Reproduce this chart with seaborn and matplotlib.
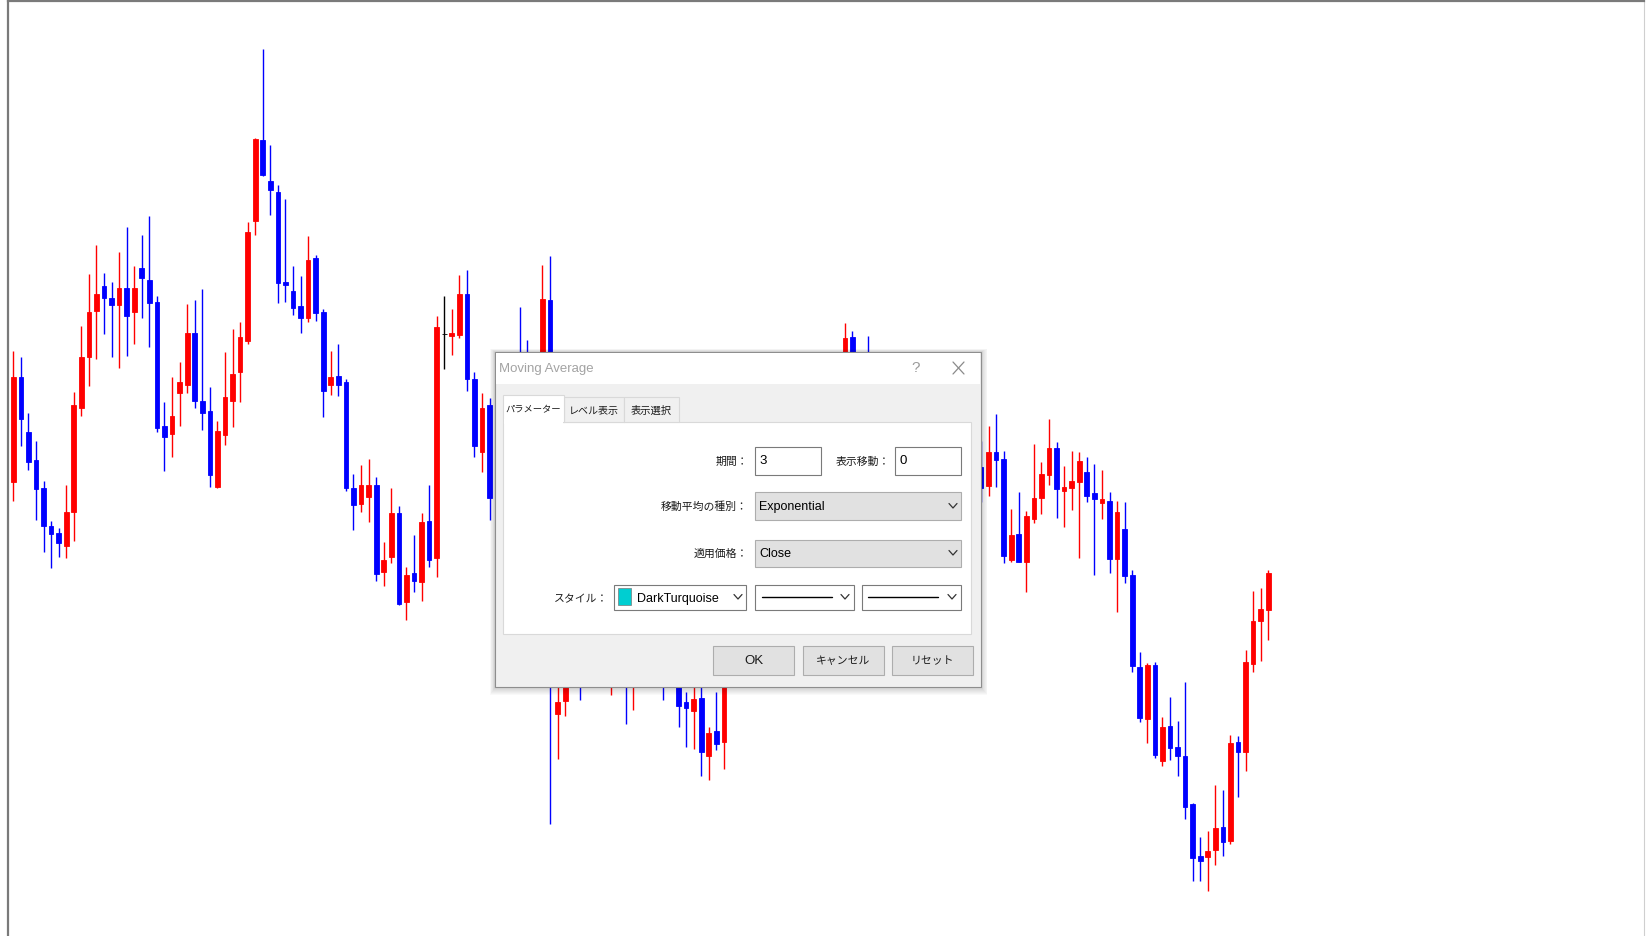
import numpy as np
import pandas as pd
import seaborn as sns
import matplotlib
matplotlib.use('Agg')
from matplotlib import pyplot as plt
from matplotlib.patches import Rectangle
from matplotlib.lines import Line2D

# candle data in price points (None = hidden behind the dialog)
open_ = [517, 622, 567, 539, 511, 473, 466, 453, 487, 591,
         642, 688, 713, 701, 694, 711, 687, 731, 719, 697,
         573, 565, 606, 614, 666, 598, 588, 512, 564, 598,
         627, 658, 778, 859, 818, 807, 717, 708, 693, 681,
         741, 687, 614, 623, 617, 511, 495, 502, 514, 427,
         442, 486, 397, 426, 417, 478, 441, 665, 663, 664,
         705, 620, 547, 594, 490, None, None, 640, 640, None,
         600, 699, 285, 298, None, 360, None, None, None, 330,
         None, 360, 320, None, None, None, 360, None, 340, 297,
         288, 301, 243, 268, 257, None, None, None, None, None,
         None, None, None, None, None, None, None, None, None, None,
         620, 662, None, 630, None, None, 630, None, None, None,
         None, None, None, None, None, None, None, None, 532, 513,
         547, 540, 439, 465, 437, 480, 501, 524, 551, 508,
         511, 517, 527, 506, 496, 498, 440, 470, 424, 332,
         280, 334, 238, 273, 252, 243, 195, 143, 142, 149,
         172, 158, 257, 247, 335, 378, 389]
high = [648, 642, 586, 558, 518, 478, 471, 514, 607, 673,
        725, 754, 726, 717, 747, 772, 733, 764, 783, 703,
        597, 622, 637, 695, 699, 710, 612, 578, 647, 670,
        677, 777, 861, 950, 854, 814, 800, 733, 723, 763,
        744, 690, 648, 655, 620, 525, 534, 540, 522, 457,
        511, 493, 432, 464, 486, 514, 683, 703, 690, 724,
        729, 627, 606, 601, 565, None, None, 692, 659, None,
        734, 743, 360, 360, None, 380, None, None, None, 380,
        None, 380, 370, None, None, None, 380, None, 360, 307,
        330, 330, 272, 307, 360, None, None, None, None, None,
        None, None, None, None, None, None, None, None, None, None,
        676, 668, None, 663, None, None, 647, None, None, None,
        None, None, None, None, None, None, None, None, 558, 573,
        585, 548, 490, 507, 488, 555, 537, 580, 557, 533,
        548, 547, 542, 535, 529, 507, 498, 497, 429, 347,
        336, 337, 282, 302, 278, 317, 196, 162, 168, 214,
        209, 264, 263, 349, 408, 411, 429]
low = [498, 553, 529, 479, 447, 431, 442, 441, 458, 583,
       613, 640, 665, 642, 631, 643, 655, 681, 652, 567,
       528, 542, 573, 606, 591, 569, 512, 511, 554, 572,
       597, 655, 764, 823, 784, 696, 697, 684, 666, 677,
       678, 582, 604, 603, 508, 469, 487, 477, 418, 413,
       436, 394, 379, 407, 398, 432, 422, 630, 644, 661,
       608, 542, 527, 479, 480, None, None, 590, 600, None,
       580, 175, 240, 283, None, 299, None, None, None, 304,
       None, 275, 289, None, None, None, 299, None, 272, 252,
       250, 223, 219, 249, 230, None, None, None, None, None,
       None, None, None, None, None, None, None, None, None, None,
       600, 600, None, 580, None, None, 580, None, None, None,
       None, None, None, None, None, None, None, None, 497, 503,
       512, 436, 437, 437, 407, 476, 485, 514, 481, 472,
       489, 441, 497, 424, 480, 426, 387, 416, 327, 277,
       256, 241, 233, 239, 223, 180, 118, 118, 108, 134,
       143, 155, 202, 228, 327, 338, 359]
close = [622, 580, 537, 510, 473, 465, 456, 487, 594, 642,
         687, 705, 701, 694, 711, 683, 711, 721, 696, 571,
         562, 583, 617, 666, 598, 586, 524, 568, 602, 625,
         662, 767, 860, 824, 809, 716, 714, 691, 681, 739,
         686, 608, 622, 614, 511, 494, 514, 514, 425, 439,
         486, 395, 424, 418, 477, 439, 672, 665, 666, 705,
         620, 553, 591, 501, 555, None, None, 610, 620, None,
         700, 380, 297, 340, None, 330, None, None, None, 360,
         None, 330, 350, None, None, None, 330, None, 293, 291,
         300, 247, 266, 255, 340, None, None, None, None, None,
         None, None, None, None, None, None, None, None, None, None,
         661, 620, None, 600, None, None, 600, None, None, None,
         None, None, None, None, None, None, None, None, 511, 547,
         539, 443, 464, 437, 483, 501, 525, 551, 510, 512,
         518, 538, 503, 500, 500, 440, 487, 423, 333, 281,
         334, 244, 272, 251, 243, 192, 141, 138, 148, 171,
         157, 256, 247, 337, 378, 390, 426]

up_color = '#ff0000'
down_color = '#0000ff'
doji_color = '#000000'

W, H = 1648, 937

df = pd.DataFrame({'open': open_, 'high': high, 'low': low, 'close': close}, dtype=float)
df['bar'] = np.arange(len(df))
df = df.dropna()
df['color'] = np.where(df.close > df.open, up_color,
                       np.where(df.close < df.open, down_color, doji_color))

sns.set_theme(style='white')
plt.rcParams['font.family'] = ['Noto Sans CJK JP', 'DejaVu Sans']

fig = plt.figure(figsize=(W / 100, H / 100), dpi=100)
fig.patch.set_facecolor('white')
ax = fig.add_axes([8 / W, 0, (1644 - 8) / W, 1 - 2 / H])

ax.vlines(df.bar, df.low, df.high, colors=df.color, lw=1.0, zorder=2)
ax.bar(df.bar, df.close - df.open, bottom=df.open, width=0.62,
       color=df.color, edgecolor=df.color, linewidth=0.6, zorder=3)

ax.set_xlim(-0.7, 215.7)
ax.set_ylim(63, 998)
ax.set_xticks([])
ax.set_yticks([])
ax.set_facecolor('white')
ax.spines['bottom'].set_visible(False)
ax.spines['top'].set_color('#7a7a7a')
ax.spines['top'].set_linewidth(1.6)
ax.spines['left'].set_color('#7a7a7a')
ax.spines['left'].set_linewidth(1.6)
ax.spines['right'].set_color('#cfcfcf')
ax.spines['right'].set_linewidth(0.8)


# ---- dialog drawn in pixel coordinates ----
def rect(x0, y0, x1, y1, **kw):
    fig.add_artist(Rectangle((x0 / W, 1 - y1 / H), (x1 - x0) / W, (y1 - y0) / H,
                             transform=fig.transFigure, **kw))


def line(xs, ys, **kw):
    fig.add_artist(Line2D([x / W for x in xs], [1 - y / H for y in ys],
                          transform=fig.transFigure, **kw))


def text(x, y, s, **kw):
    fig.text(x / W, 1 - y / H, s, va='center', **kw)


latin = ['Liberation Sans Narrow', 'Liberation Sans', 'DejaVu Sans']
jp = ['Noto Sans CJK JP', 'DejaVu Sans']

# shadow
for k in range(1, 9):
    rect(495 - k * 0.6, 353 - k * 0.4, 981 + k * 0.8, 688 + k, facecolor='black',
         edgecolor='none', alpha=0.025)
rect(495, 353, 981, 688, facecolor='#f0f0f0', edgecolor='#8e8e8e', lw=0.8)
rect(495.6, 353.6, 980.4, 385, facecolor='white', edgecolor='none')
text(499, 369, 'Moving Average', color='#a3a3a3', fontsize=9.5, family=latin)
text(916, 368, '?', color='#9a9a9a', fontsize=11, family=latin, ha='center')
line([953, 964], [363, 375], color='#8a8a8a', lw=0.9)
line([953, 964], [375, 363], color='#8a8a8a', lw=0.9)

# tab page
rect(503, 423, 971, 635, facecolor='white', edgecolor='#d9d9d9', lw=0.8)
rect(564, 398, 624, 423, facecolor='#f0f0f0', edgecolor='#d9d9d9', lw=0.8)
rect(624, 398, 679, 423, facecolor='#f0f0f0', edgecolor='#d9d9d9', lw=0.8)
rect(503, 396, 564, 423, facecolor='white', edgecolor='#d9d9d9', lw=0.8)
rect(503.6, 420, 563.4, 424.5, facecolor='white', edgecolor='none')
text(533.5, 410, 'パラメーター', fontsize=6.7, family=jp, ha='center', color='#1a1a1a')
text(594, 411, 'レベル表示', fontsize=7.2, family=jp, ha='center', color='#1a1a1a')
text(651.5, 411, '表示選択', fontsize=7.4, family=jp, ha='center', color='#1a1a1a')

# labels
lab = dict(fontsize=7.8, family=jp, ha='right', color='#1a1a1a')
text(748, 462, '期間：', **lab)
text(890, 462, '表示移動：', **lab)
text(748, 507, '移動平均の種別：', **lab)
text(748, 554, '適用価格：', **lab)
text(608, 599, 'スタイル：', **lab)


def chevron(cx, cy):
    line([cx - 4, cx, cx + 4], [cy - 2.5, cy + 2, cy - 2.5], color='#333333', lw=0.9)


# edit boxes
rect(755, 448, 821, 476, facecolor='white', edgecolor='#7a7a7a', lw=0.8)
text(759, 461, '3', fontsize=9.5, family=latin, color='black')
rect(895, 448, 961, 476, facecolor='white', edgecolor='#7a7a7a', lw=0.8)
text(899, 461, '0', fontsize=9.5, family=latin, color='black')

# combo boxes
rect(755, 493, 961, 521, facecolor='#e1e1e1', edgecolor='#adadad', lw=0.8)
text(759, 507, 'Exponential', fontsize=9, family=latin, color='black')
chevron(953, 507)
rect(755, 541, 961, 568, facecolor='#e1e1e1', edgecolor='#adadad', lw=0.8)
text(759, 554, 'Close', fontsize=9, family=latin, color='black')
chevron(953, 554)

rect(614, 586, 746, 611, facecolor='white', edgecolor='#7a7a7a', lw=0.8)
rect(618, 589, 631, 606, facecolor='#00ced1', edgecolor='#7a7a7a', lw=0.5)
text(637, 599, 'DarkTurquoise', fontsize=9, family=latin, color='black')
chevron(738, 598)
rect(755, 586, 854, 611, facecolor='white', edgecolor='#7a7a7a', lw=0.8)
line([762, 832], [598, 598], color='black', lw=1.0)
chevron(845, 598)
rect(862, 586, 961, 611, facecolor='white', edgecolor='#7a7a7a', lw=0.8)
line([868, 938], [598, 598], color='black', lw=1.0)
chevron(952, 598)

# buttons
for (x0, x1), label in zip([(713, 794), (803, 884), (892, 973)], ['OK', 'キャンセル', 'リセット']):
    rect(x0, 647, x1, 676, facecolor='#e1e1e1', edgecolor='#adadad', lw=0.8)
    fam = latin if label == 'OK' else jp
    size = 9.5 if label == 'OK' else 7.8
    text((x0 + x1) / 2, 661.5, label, fontsize=size, family=fam, ha='center', color='#1a1a1a')

plt.savefig('out.png', dpi=100)
